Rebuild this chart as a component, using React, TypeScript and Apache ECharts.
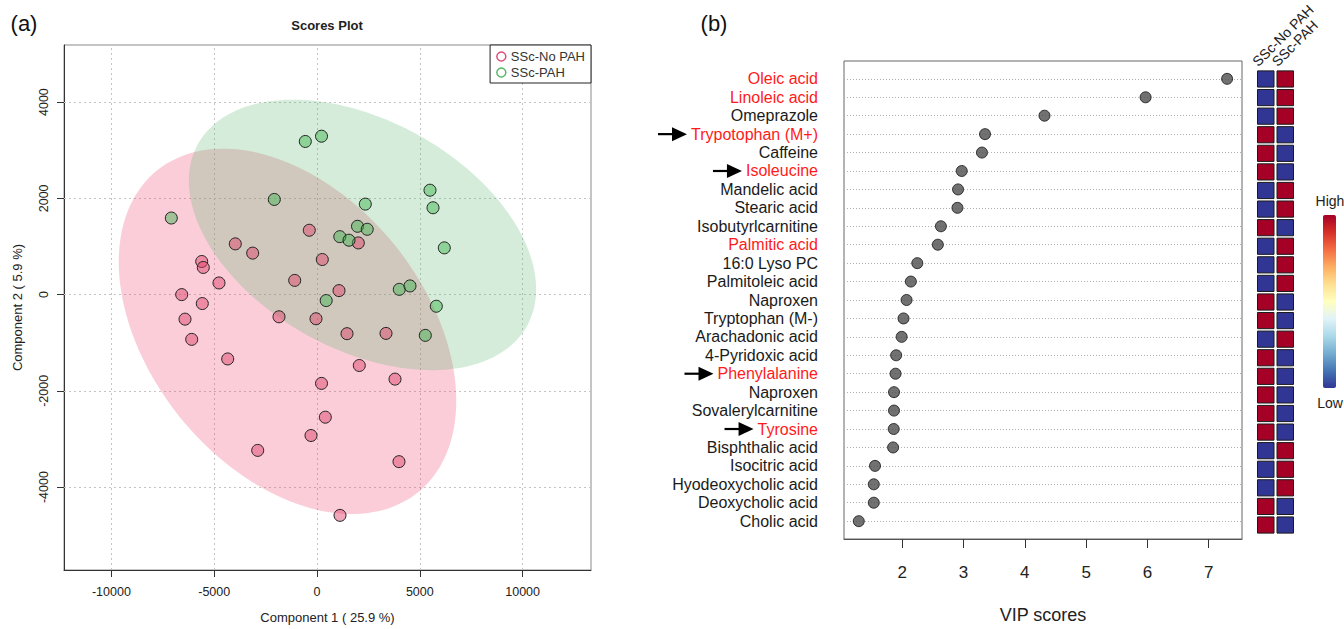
import React, { useEffect, useRef } from "react";
import * as echarts from "echarts";

// ---------- Panel (a): PCA scores ----------
const PINK_POINTS: [number, number][] = [
  [-5608, 688], [-5531, 564], [-4767, 242], [-6581, 0], [-5579, -186], [-6420, -510], [-6095, -930],
  [-3974, 1054], [-3128, 862], [-375, 1337], [258, 729], [-1085, 295], [1070, 83], [2009, 1074],
  [-1848, -461], [-49, -502], [1459, -812], [3356, -806], [-4344, -1337], [2057, -1473], [3794, -1756],
  [219, -1845], [404, -2547], [-292, -2928], [-2884, -3237], [3988, -3471], [1119, -4587],
];
const GREEN_POINTS: [number, number][] = [
  [-7087, 1591], [-569, 3182], [219, 3291], [-2077, 1977], [2349, 1880], [1970, 1419], [2442, 1357],
  [1109, 1204], [1556, 1130], [447, -124], [5496, 2169], [5642, 1804], [6192, 971], [4003, 109],
  [4523, 180], [5803, -242], [5268, -847],
];
// confidence ellipses: centre and two conjugate half-axis vectors (data units)
const PINK_ELLIPSE_CENTER = [-1435, -764];
const PINK_ELLIPSE_AXIS_A = [6323, -3351];
const PINK_ELLIPSE_AXIS_B = [-5234, -1782];
const GREEN_ELLIPSE_CENTER = [2213, 1240];
const GREEN_ELLIPSE_AXIS_A = [7992, -1897];
const GREEN_ELLIPSE_AXIS_B = [-2729, -2072];

const SCORE_X_TICKS = [-10000, -5000, 0, 5000, 10000];
const SCORE_Y_TICKS = [-4000, -2000, 0, 2000, 4000];
const SCORE_X_RANGE = [-12306, 13327];
const SCORE_Y_RANGE = [-5722, 5186];
const GROUPS = ["SSc-No PAH", "SSc-PAH"];

// ---------- Panel (b): VIP scores ----------
const VIP_NAMES = [
  "Oleic acid", "Linoleic acid", "Omeprazole", "Trypotophan (M+)", "Caffeine", "Isoleucine",
  "Mandelic acid", "Stearic acid", "Isobutyrlcarnitine", "Palmitic acid", "16:0 Lyso PC",
  "Palmitoleic acid", "Naproxen", "Tryptophan (M-)", "Arachadonic acid", "4-Pyridoxic acid",
  "Phenylalanine", "Naproxen", "Sovalerylcarnitine", "Tyrosine", "Bisphthalic acid",
  "Isocitric acid", "Hyodeoxycholic acid", "Deoxycholic acid", "Cholic acid",
];
const VIP_SCORES = [
  7.3, 5.97, 4.32, 3.35, 3.3, 2.97, 2.91, 2.9, 2.63, 2.58, 2.245, 2.14, 2.07, 2.02, 1.99, 1.9,
  1.89, 1.865, 1.865, 1.86, 1.85, 1.555, 1.535, 1.535, 1.29,
];
const RED_ROWS = [0, 1, 3, 5, 9, 16, 19];
const ARROW_ROWS = [3, 5, 16, 19];
const VIP_X_TICKS = [2, 3, 4, 5, 6, 7];
const VIP_X_RANGE = [1.049, 7.543];
// heat map: 1 = high, -1 = low
const HEAT_NO_PAH = [-1, -1, -1, 1, 1, 1, -1, -1, 1, -1, -1, -1, 1, 1, -1, 1, 1, 1, 1, 1, -1, -1, -1, 1, 1];
const HEAT_PAH = [1, 1, 1, -1, -1, -1, 1, 1, -1, 1, 1, 1, -1, -1, 1, -1, -1, -1, -1, -1, 1, 1, 1, -1, -1];
const HEAT_COLORS = ["#313695", "#4575b4", "#74add1", "#abd9e9", "#e0f3f8", "#ffffbf", "#fee090", "#fdae61", "#f46d43", "#d73027", "#a50026"];

const FONT = '"Liberation Sans", Arial, sans-serif';
const VIP_LABEL_SIZE = 16;
const VIP_GRID_LEFT = 844;
const VIP_LABEL_MARGIN = 26;
const HEAT_TOP = 69.7;

function ellipseSeries(center: number[], a: number[], b: number[], fill: string) {
  return {
    type: "custom",
    xAxisIndex: 0,
    yAxisIndex: 0,
    silent: true,
    data: [center],
    renderItem: (_p: any, api: any) => {
      const pts: number[][] = [];
      const n = 160;
      for (let k = 0; k < n; k++) {
        const t = (k / n) * Math.PI * 2;
        const x = center[0] + a[0] * Math.cos(t) + b[0] * Math.sin(t);
        const y = center[1] + a[1] * Math.cos(t) + b[1] * Math.sin(t);
        pts.push(api.coord([x, y]));
      }
      return { type: "polygon", shape: { points: pts }, style: { fill, stroke: "none" } };
    },
  };
}

const plain = (v: number) => String(v);

export default function App() {
  const ref = useRef<HTMLDivElement>(null);
  useEffect(() => {
    const chart = echarts.init(ref.current!, null, { renderer: "svg" });
    const heatData: number[][] = [];
    VIP_NAMES.forEach((_, i) => {
      heatData.push([0, i, HEAT_NO_PAH[i]]);
      heatData.push([1, i, HEAT_PAH[i]]);
    });
    const textStyle = (text: string, size: number, extra: any = {}) => ({
      text, fill: "#111", fontSize: size, fontFamily: FONT, align: "center", verticalAlign: "middle", ...extra,
    });
    const staticGraphics: any[] = [
      { type: "text", x: 24, y: 23, style: textStyle("(a)", 22) },
      { type: "text", x: 714, y: 23, style: textStyle("(b)", 22) },
      { type: "text", x: 327, y: 25, style: textStyle("Scores Plot", 13, { fontWeight: "bold", fill: "#222" }) },
      { type: "text", x: 1330, y: 201, style: textStyle("High", 14, { fill: "#222" }) },
      { type: "text", x: 1330, y: 403, style: textStyle("Low", 14, { fill: "#222" }) },
      {
        type: "rect", shape: { x: 1323, y: 215, width: 13, height: 173, r: 2 },
        style: {
          fill: new echarts.graphic.LinearGradient(
            0, 0, 0, 1,
            HEAT_COLORS.slice().reverse().map((c, k, arr) => ({ offset: k / (arr.length - 1), color: c }))
          ),
        },
      },
    ];
    const option: any = {
      animation: false,
      textStyle: { fontFamily: FONT },
      grid: [
        { left: 64, top: 45, width: 527, height: 528, show: true, borderColor: "#8a8a8a", borderWidth: 1, backgroundColor: "transparent" },
        { left: VIP_GRID_LEFT, top: 61, width: 398, height: 482, show: true, borderColor: "#666", borderWidth: 1 },
        { left: 1256, top: HEAT_TOP, width: 39, height: 464.6 },
      ],
      xAxis: [
        {
          gridIndex: 0, type: "value", min: SCORE_X_RANGE[0], max: SCORE_X_RANGE[1],
          axisLine: { show: true, onZero: false, lineStyle: { color: "#333", width: 1 } },
          axisTick: { show: true, customValues: SCORE_X_TICKS, length: 7, lineStyle: { color: "#333" } },
          axisLabel: { customValues: SCORE_X_TICKS, formatter: plain, fontSize: 12.5, color: "#222", margin: 15, fontFamily: FONT },
          splitLine: { show: false },
          name: "Component 1 ( 25.9 %)", nameLocation: "middle", nameGap: 41,
          nameTextStyle: { fontSize: 13, color: "#222", fontFamily: FONT },
        },
        {
          gridIndex: 1, type: "value", min: VIP_X_RANGE[0], max: VIP_X_RANGE[1], position: "bottom",
          axisLine: { show: true, onZero: false, lineStyle: { color: "#555" } },
          axisTick: { show: true, customValues: VIP_X_TICKS, length: 9, lineStyle: { color: "#333" } },
          axisLabel: { customValues: VIP_X_TICKS, formatter: plain, fontSize: 17, color: "#222", margin: 25, fontFamily: FONT },
          splitLine: { show: false },
          name: "VIP scores", nameLocation: "middle", nameGap: 67,
          nameTextStyle: { fontSize: 18, color: "#222", fontFamily: FONT },
        },
        {
          gridIndex: 2, type: "category", data: GROUPS, position: "top",
          axisLine: { show: false }, axisTick: { show: false }, axisLabel: { show: false },
        },
      ],
      yAxis: [
        {
          gridIndex: 0, type: "value", min: SCORE_Y_RANGE[0], max: SCORE_Y_RANGE[1],
          axisLine: { show: true, onZero: false, lineStyle: { color: "#333", width: 1 } },
          axisTick: { show: true, customValues: SCORE_Y_TICKS, length: 7, lineStyle: { color: "#333" } },
          axisLabel: { customValues: SCORE_Y_TICKS, formatter: plain, rotate: 90, fontSize: 12.5, color: "#222", margin: 14, fontFamily: FONT },
          splitLine: { show: false },
          name: "Component 2 ( 5.9 %)", nameLocation: "middle", nameGap: 40,
          nameTextStyle: { fontSize: 13, color: "#222", fontFamily: FONT },
        },
        {
          gridIndex: 1, type: "value", inverse: true, min: -0.968, max: VIP_NAMES.length - 1 + 0.968,
          axisLine: { show: false, onZero: false }, axisTick: { show: false }, splitLine: { show: false },
          axisLabel: {
            customValues: VIP_NAMES.map((_, i) => i),
            margin: VIP_LABEL_MARGIN,
            formatter: (v: number) => {
              const i = Math.round(v);
              const n = VIP_NAMES[i] ?? "";
              return RED_ROWS.includes(i) ? `{r|${n}}` : `{k|${n}}`;
            },
            rich: {
              r: { color: "#ff1a1a", fontSize: VIP_LABEL_SIZE, fontFamily: FONT },
              k: { color: "#1a1a1a", fontSize: VIP_LABEL_SIZE, fontFamily: FONT },
            },
          },
        },
        { gridIndex: 2, type: "value", inverse: true, min: -0.5, max: VIP_NAMES.length - 0.5, show: false },
      ],
      legend: {
        orient: "vertical", right: 753, top: 45,
        padding: [5, 6, 4, 6], itemGap: 3, itemWidth: 9, itemHeight: 9,
        borderColor: "#222", borderWidth: 1, borderRadius: 0, backgroundColor: "#fff",
        textStyle: { fontSize: 13, color: "#333", fontFamily: FONT },
        data: [
          { name: GROUPS[0], icon: "circle", itemStyle: { color: "#fff", borderColor: "#e0507a", borderWidth: 1.5 } },
          { name: GROUPS[1], icon: "circle", itemStyle: { color: "#fff", borderColor: "#55b865", borderWidth: 1.5 } },
        ],
      },
      visualMap: {
        type: "continuous", show: false, min: -1, max: 1, dimension: 2, seriesIndex: 5,
        inRange: { color: HEAT_COLORS },
      },
      series: [
        ellipseSeries(PINK_ELLIPSE_CENTER, PINK_ELLIPSE_AXIS_A, PINK_ELLIPSE_AXIS_B, "rgba(235,60,110,0.26)"),
        ellipseSeries(GREEN_ELLIPSE_CENTER, GREEN_ELLIPSE_AXIS_A, GREEN_ELLIPSE_AXIS_B, "rgba(90,180,110,0.26)"),
        {
          type: "scatter", name: GROUPS[0], xAxisIndex: 0, yAxisIndex: 0, data: PINK_POINTS,
          symbolSize: 12, itemStyle: { color: "rgba(225,60,100,0.45)", borderColor: "#222", borderWidth: 1, opacity: 1 },
          markLine: {
            silent: true, symbol: ["none", "none"], z: 1, label: { show: false },
            lineStyle: { type: [2, 3], color: "#c4c4c4", width: 1 },
            data: [
              ...SCORE_X_TICKS.map((v) => ({ xAxis: v })),
              ...SCORE_Y_TICKS.map((v) => ({ yAxis: v })),
            ],
          },
        },
        {
          type: "scatter", name: GROUPS[1], xAxisIndex: 0, yAxisIndex: 0, data: GREEN_POINTS,
          symbolSize: 12, itemStyle: { color: "rgba(55,180,70,0.45)", borderColor: "#222", borderWidth: 1, opacity: 1 },
        },
        {
          type: "scatter", name: "VIP", xAxisIndex: 1, yAxisIndex: 1,
          data: VIP_SCORES.map((v, i) => [v, i]),
          symbolSize: 11, itemStyle: { color: "#4d4d4d", borderColor: "#111", borderWidth: 1 },
          markLine: {
            silent: true, symbol: ["none", "none"], z: 1, label: { show: false },
            lineStyle: { type: [1, 2], color: "#b0b0b0", width: 1 },
            data: VIP_NAMES.map((_, i) => ({ yAxis: i })),
          },
        },
        {
          type: "custom", name: "heat", xAxisIndex: 2, yAxisIndex: 2, data: heatData,
          encode: { x: 0, y: 1 },
          renderItem: (_p: any, api: any) => {
            const p = api.coord([api.value(0), api.value(1)]);
            const s = api.size([1, 1]);
            const w = s[0] - 3;
            const h = s[1] - 2.4;
            return {
              type: "rect",
              shape: { x: p[0] - w / 2, y: p[1] - h / 2, width: w, height: h },
              style: { fill: api.visual("color"), stroke: "#1a1a1a", lineWidth: 1 },
            };
          },
        },
      ],
      graphic: staticGraphics,
    };
    chart.setOption(option);

    // arrows pointing at highlighted metabolites
    const ctx = document.createElement("canvas").getContext("2d")!;
    ctx.font = `${VIP_LABEL_SIZE}px ${FONT}`;
    const labelRight = VIP_GRID_LEFT - VIP_LABEL_MARGIN;
    const arrows = ARROW_ROWS.map((i) => {
      const y = chart.convertToPixel({ yAxisIndex: 1 } as any, i) as unknown as number;
      const w = ctx.measureText(VIP_NAMES[i]).width;
      const tip = labelRight - w - 4;
      return {
        type: "group",
        children: [
          { type: "line", shape: { x1: tip - 29, y1: y, x2: tip - 12, y2: y }, style: { stroke: "#000", lineWidth: 2.2 } },
          { type: "polygon", shape: { points: [[tip - 15, y - 7], [tip, y], [tip - 15, y + 7]] }, style: { fill: "#000" } },
        ],
      };
    });
    // rotated column headers of the heat map
    const headers = GROUPS.map((g, k) => {
      const x = chart.convertToPixel({ xAxisIndex: 2 } as any, k) as unknown as number;
      return {
        type: "text", x: x - 6, y: HEAT_TOP - 1, rotation: Math.PI / 4,
        style: { text: g, fill: "#222", fontSize: 14, fontFamily: FONT, align: "left", verticalAlign: "bottom" },
      };
    });
    chart.setOption({ graphic: [...staticGraphics, ...arrows, ...headers] });
    return () => chart.dispose();
  }, []);
  return <div ref={ref} style={{ position: "absolute", left: 0, top: 0, width: 1344, height: 629 }} />;
}
